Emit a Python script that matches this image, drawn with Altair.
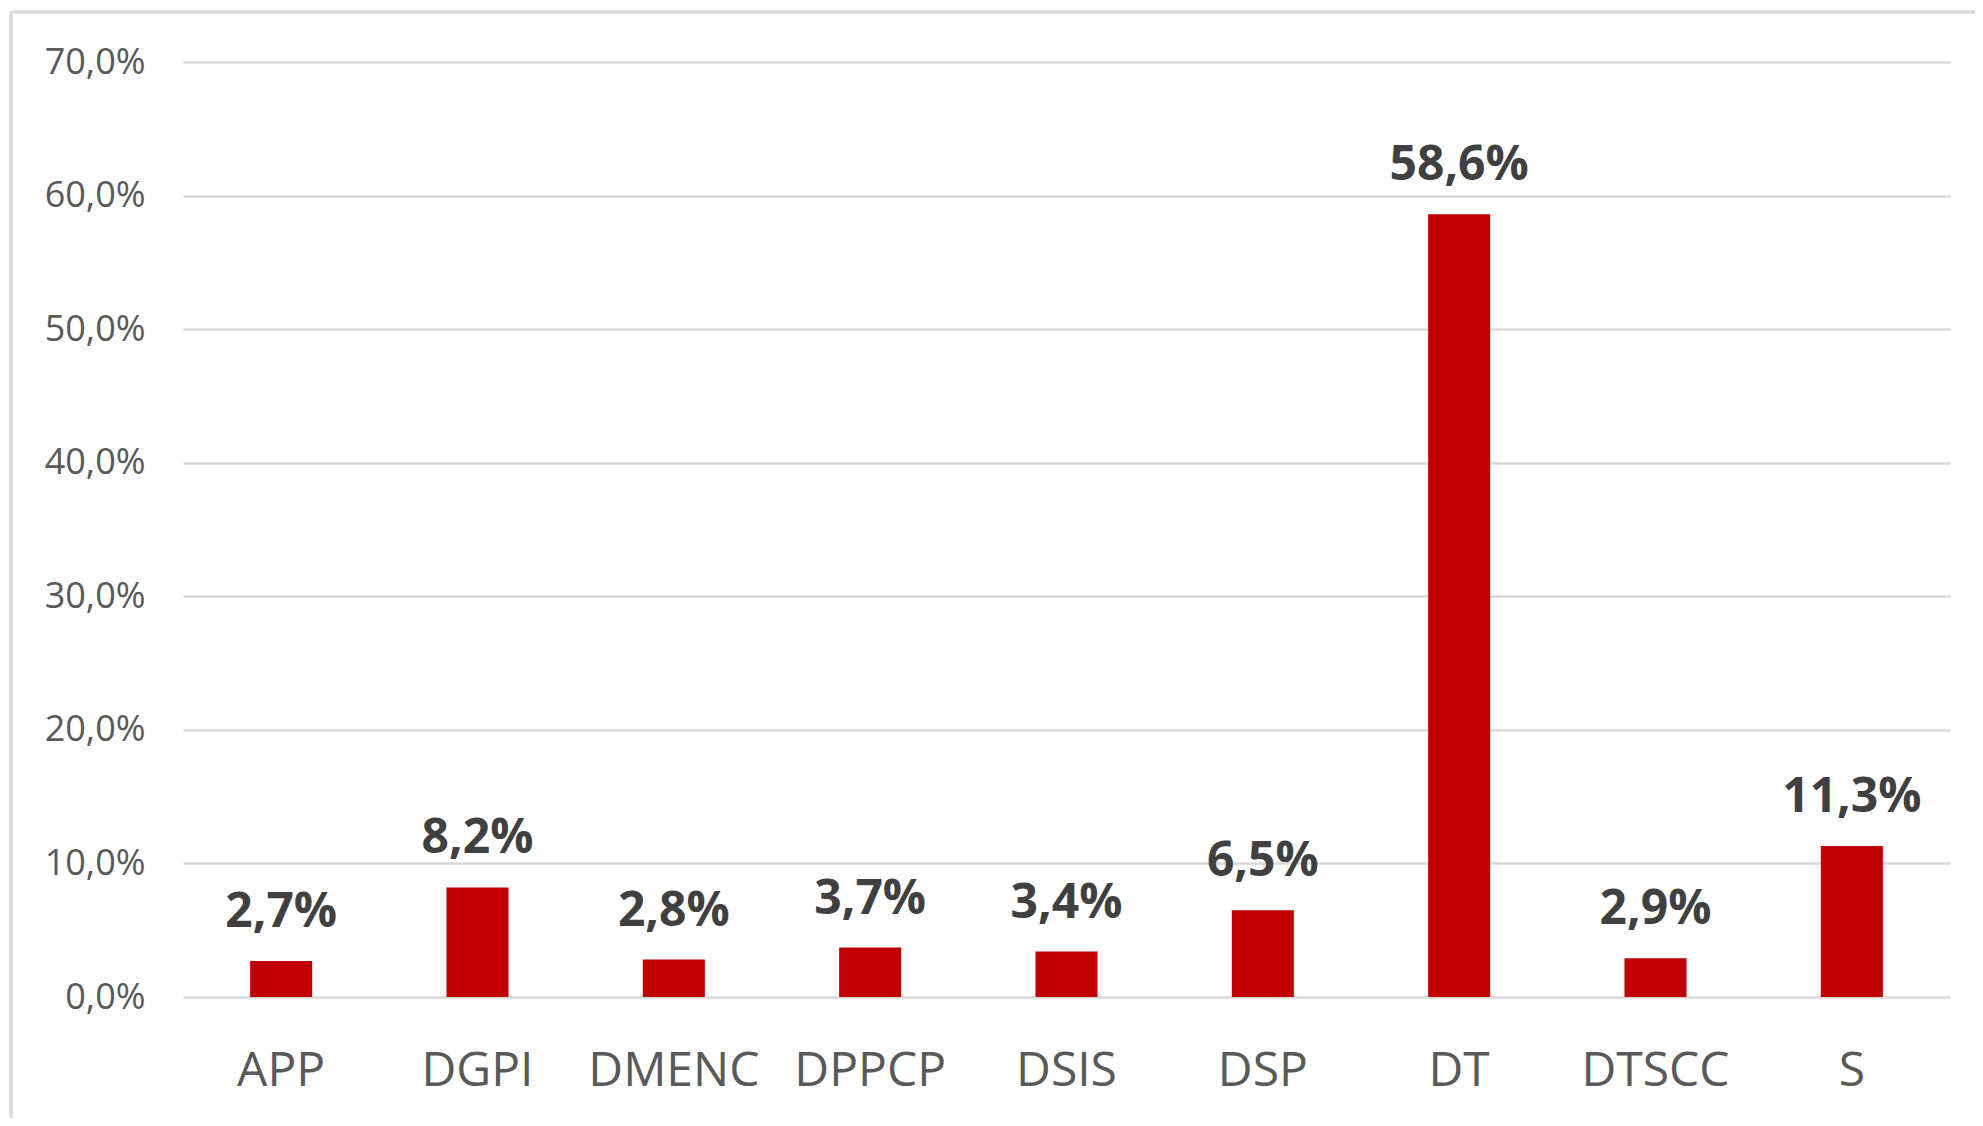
import altair as alt
import pandas as pd

categories = ["APP", "DGPI", "DMENC", "DPPCP", "DSIS", "DSP", "DT", "DTSCC", "S"]
values = [2.7, 8.2, 2.8, 3.7, 3.4, 6.5, 58.6, 2.9, 11.3]
y_ticks = [0, 10, 20, 30, 40, 50, 60, 70]

df = pd.DataFrame({"cat": categories, "val": values})
frame_df = pd.DataFrame({"k": [0]})

FONT = "Open Sans"
W, H = 1767, 935

x_enc = alt.X(
    "cat:N",
    sort=categories,
    scale=alt.Scale(paddingInner=0.684, paddingOuter=0.342),
    axis=alt.Axis(
        title=None, labelAngle=0, ticks=False, domain=False, grid=False,
        labelFont=FONT, labelFontSize=48, labelColor="#595959",
        labelBaseline="alphabetic", labelPadding=88,
    ),
)
y_enc = alt.Y(
    "val:Q",
    scale=alt.Scale(domain=[0, 70], nice=False),
    axis=alt.Axis(
        title=None, values=y_ticks, ticks=False, domain=False,
        labelFont=FONT, labelFontSize=36, labelColor="#595959",
        labelPadding=38,
        labelExpr="replace(format(datum.value, '.1f'), '.', ',') + '%'",
        gridColor="#d9d9d9", gridWidth=2.5,
    ),
)

bars = alt.Chart(df).mark_bar(color="#c00000").encode(x=x_enc, y=y_enc)

labels = alt.Chart(df).transform_calculate(
    lab="replace(format(datum.val, '.1f'), '.', ',') + '%'"
).mark_text(
    font=FONT, fontSize=48, fontWeight="bold", color="#404040",
    baseline="alphabetic", dy=-34,
).encode(x=alt.X("cat:N", sort=categories), y="val:Q", text="lab:N")

frame_left = alt.Chart(frame_df).mark_rule(color="#d9d9d9", strokeWidth=3.5, clip=False).encode(
    x=alt.value(-172), y=alt.value(-50), y2=alt.value(1200)
)
frame_top = alt.Chart(frame_df).mark_rule(color="#d9d9d9", strokeWidth=3.5, clip=False).encode(
    x=alt.value(-172), x2=alt.value(2000), y=alt.value(-50)
)

chart = alt.layer(bars, labels, frame_left, frame_top).properties(
    width=W, height=H,
    background="white",
    autosize=alt.AutoSizeParams(type="none"),
    padding={"left": 175, "top": 54, "right": 25, "bottom": 121},
).configure_view(stroke=None, strokeWidth=0)

chart.save("out.html", embed_options={"renderer": "svg", "actions": False})
